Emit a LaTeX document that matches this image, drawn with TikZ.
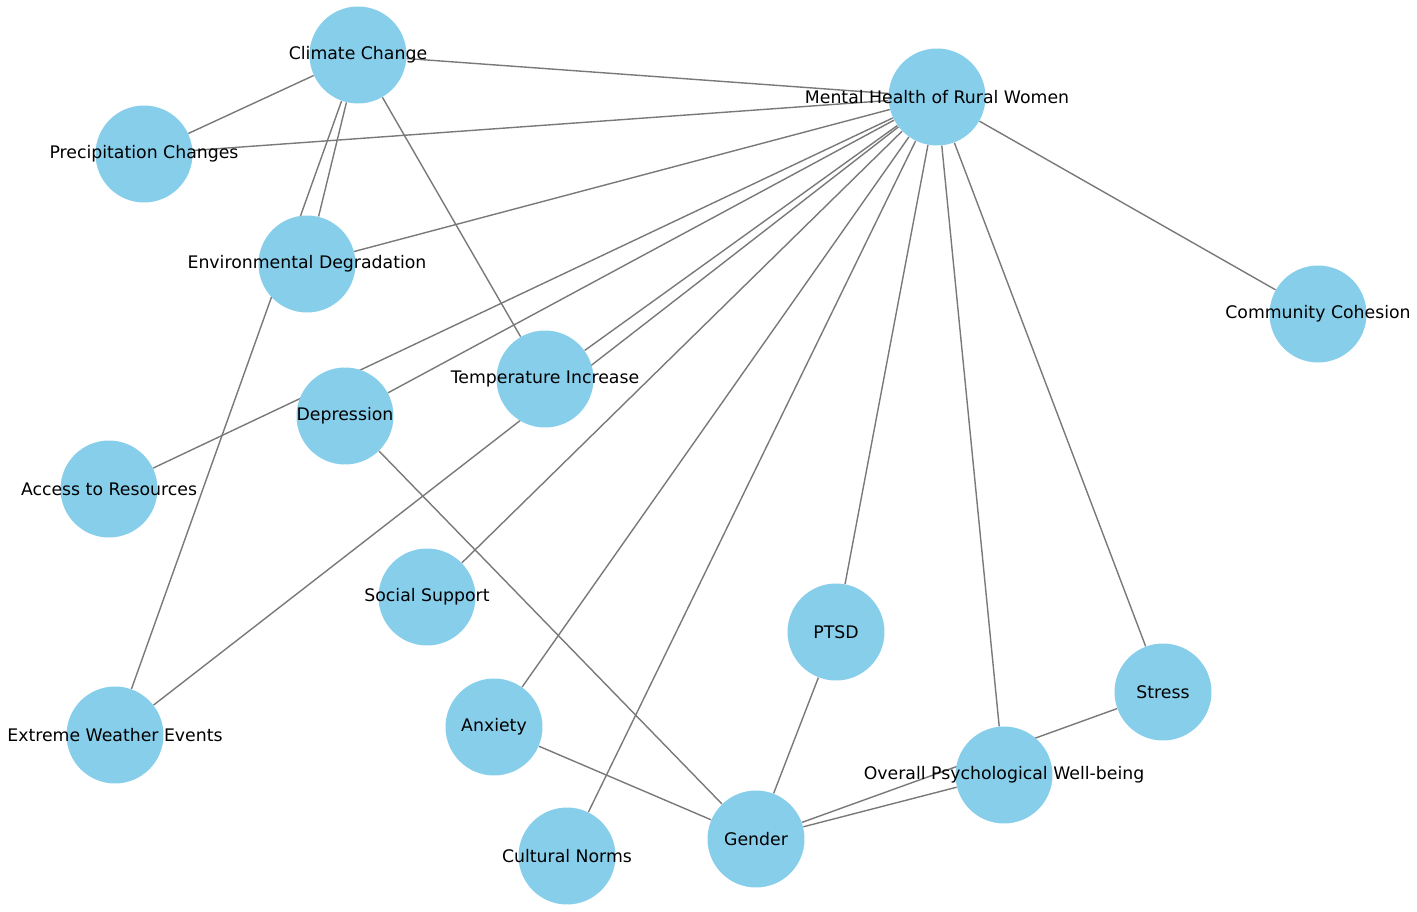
\documentclass[tikz,border=0pt]{standalone}
\usepackage{fontspec}
\setmainfont{DejaVu Sans}
\usepackage{tikz}
\usetikzlibrary{shapes}
\pgfdeclarelayer{background}
\pgfsetlayers{background,main}
\definecolor{skyblue}{HTML}{87CEEB}
\tikzstyle{vertex}=[circle,fill=skyblue,minimum size=1.94cm,inner sep=0pt]
\tikzstyle{edge} = [draw,line width=0.8pt,color=gray!95!black,-]

\begin{document}
\begin{tikzpicture}[x=0.02cm,y=-0.02cm,font=\fontsize{9.85}{12}\selectfont]
    \useasboundingbox (0,0) rectangle (1417,912);
    % Draw the climate / mental health network
    % First we draw the vertices
    \foreach \pos/\name/\lbl in {{(358,55)/climate/Climate Change}, {(937,97)/mental/Mental Health of Rural Women},
        {(144,154)/precip/Precipitation Changes}, {(307,264)/envdeg/Environmental Degradation},
        {(1318,314)/cohesion/Community Cohesion}, {(545,379)/temp/Temperature Increase},
        {(345,416)/depression/Depression}, {(109,489)/access/Access to Resources},
        {(427,597)/support/Social Support}, {(836,632)/ptsd/PTSD}, {(1163,692)/stress/Stress},
        {(494,727)/anxiety/Anxiety}, {(115,735)/weather/Extreme Weather Events},
        {(1004,775)/wellbeing/Overall Psychological Well-being}, {(567,856)/norms/Cultural Norms},
        {(756,839)/gender/Gender}}
        \node[vertex,label={center:\lbl}] (\name) at \pos {};

    % Connect vertices with edges
    \begin{pgfonlayer}{background}
    \foreach \source/ \dest in {climate/mental, climate/precip, climate/envdeg, climate/weather, climate/temp,
        precip/mental, envdeg/mental, cohesion/mental, access/mental, depression/mental, temp/mental,
        weather/mental, support/mental, anxiety/mental, norms/mental, ptsd/mental, wellbeing/mental,
        stress/mental, depression/gender, anxiety/gender, ptsd/gender, wellbeing/gender, stress/gender}
        \path[edge] (\source) -- (\dest) ;
    \end{pgfonlayer}

\end{tikzpicture}
\end{document}
